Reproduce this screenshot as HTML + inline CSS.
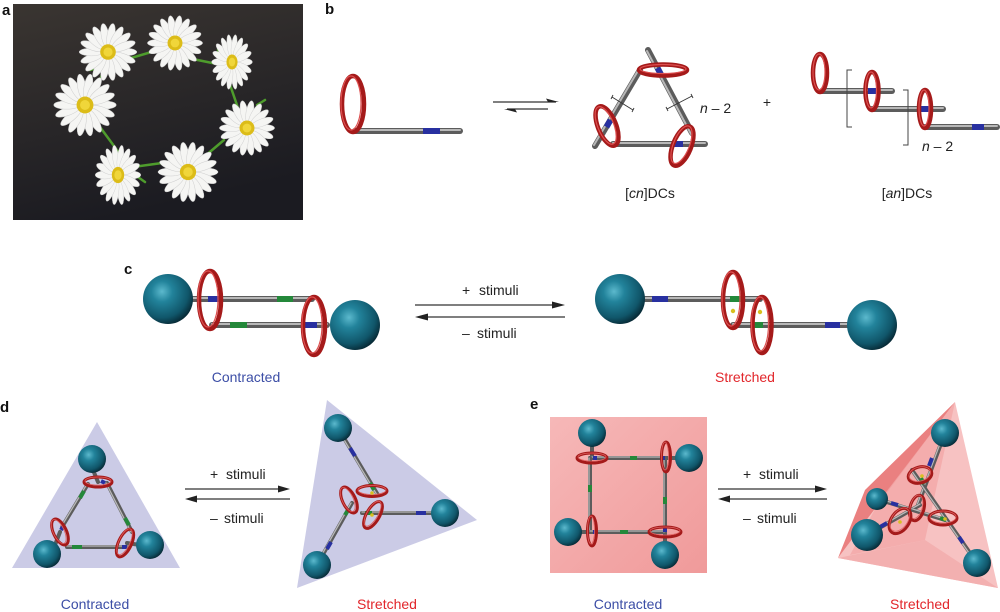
<!DOCTYPE html>
<html><head><meta charset="utf-8"><style>
html,body{margin:0;padding:0;background:#fff;}
svg{display:block;}
text{font-family:"Liberation Sans",Arial,sans-serif;}
.lab{font-weight:bold;font-size:15px;fill:#111;}
.st{font-size:14px;fill:#222;}
.cb{font-size:14px;fill:#3c4ea6;}
.cr{font-size:14px;fill:#e2262b;}
.r1{stroke:#5c5c5c;stroke-width:6;stroke-linecap:round;}
.r2{stroke:#b8b8b8;stroke-width:2;stroke-linecap:round;}
.s1{stroke:#5c5c5c;stroke-width:4;stroke-linecap:round;}
.s2{stroke:#b8b8b8;stroke-width:1.3;stroke-linecap:round;}
.bl{stroke:#2830a0;stroke-width:6;}
.gr{stroke:#24883a;stroke-width:6;}
.bls{stroke:#2830a0;stroke-width:4;}
.grs{stroke:#24883a;stroke-width:4;}
.rg{fill:none;stroke:#a51a1a;stroke-width:4.5;}
.rgh{fill:none;stroke:#dd5050;stroke-width:1.2;}
.rgs{fill:none;stroke:#a51a1a;stroke-width:3;}
.rgsh{fill:none;stroke:#e06060;stroke-width:0.8;}
.ar{stroke:#333;stroke-width:1.3;}
.stem{stroke:#4e9c2c;stroke-width:2.5;stroke-linecap:round;}
</style></head><body>
<svg width="1000" height="612" viewBox="0 0 1000 612" xmlns="http://www.w3.org/2000/svg">
<defs>
 <radialGradient id="ball" cx="0.38" cy="0.35" r="0.7">
  <stop offset="0" stop-color="#5cb9cd"/>
  <stop offset="0.3" stop-color="#22839b"/>
  <stop offset="0.75" stop-color="#10566a"/>
  <stop offset="1" stop-color="#062530"/>
 </radialGradient>
 <linearGradient id="photo" x1="0" y1="0" x2="0.3" y2="1">
  <stop offset="0" stop-color="#3a3531"/>
  <stop offset="1" stop-color="#1b1b21"/>
 </linearGradient>
 <linearGradient id="pink" x1="0" y1="0" x2="1" y2="1">
  <stop offset="0" stop-color="#f6b8b8"/>
  <stop offset="1" stop-color="#f09a9a"/>
 </linearGradient>
 <g id="fl">
  <g fill="#f5f5f3" stroke="#cfcfcf" stroke-width="0.4">
   <ellipse cx="14" cy="0" rx="10" ry="3.2" transform="rotate(0)"/>
   <ellipse cx="14" cy="0" rx="10" ry="3.2" transform="rotate(20)"/>
   <ellipse cx="14" cy="0" rx="10" ry="3.2" transform="rotate(40)"/>
   <ellipse cx="14" cy="0" rx="10" ry="3.2" transform="rotate(60)"/>
   <ellipse cx="14" cy="0" rx="10" ry="3.2" transform="rotate(80)"/>
   <ellipse cx="14" cy="0" rx="10" ry="3.2" transform="rotate(100)"/>
   <ellipse cx="14" cy="0" rx="10" ry="3.2" transform="rotate(120)"/>
   <ellipse cx="14" cy="0" rx="10" ry="3.2" transform="rotate(140)"/>
   <ellipse cx="14" cy="0" rx="10" ry="3.2" transform="rotate(160)"/>
   <ellipse cx="14" cy="0" rx="10" ry="3.2" transform="rotate(180)"/>
   <ellipse cx="14" cy="0" rx="10" ry="3.2" transform="rotate(200)"/>
   <ellipse cx="14" cy="0" rx="10" ry="3.2" transform="rotate(220)"/>
   <ellipse cx="14" cy="0" rx="10" ry="3.2" transform="rotate(240)"/>
   <ellipse cx="14" cy="0" rx="10" ry="3.2" transform="rotate(260)"/>
   <ellipse cx="14" cy="0" rx="10" ry="3.2" transform="rotate(280)"/>
   <ellipse cx="14" cy="0" rx="10" ry="3.2" transform="rotate(300)"/>
   <ellipse cx="14" cy="0" rx="10" ry="3.2" transform="rotate(320)"/>
   <ellipse cx="14" cy="0" rx="10" ry="3.2" transform="rotate(340)"/>
  </g>
  <circle r="6.5" fill="#dcbc18"/>
  <circle r="3.8" fill="#f0d63a"/>
 </g>
</defs>

<!-- ===== a ===== -->
<text class="lab" x="2" y="15">a</text>
<rect x="13" y="4" width="290" height="216" fill="url(#photo)"/>
<g>
 <line class="stem" x1="90" y1="70" x2="165" y2="48"/>
 <line class="stem" x1="183" y1="57" x2="222" y2="65"/>
 <line class="stem" x1="218" y1="50" x2="238" y2="108"/>
 <line class="stem" x1="257" y1="105" x2="265" y2="100"/>
 <line class="stem" x1="224" y1="140" x2="198" y2="162"/>
 <line class="stem" x1="133" y1="167" x2="162" y2="163"/>
 <line class="stem" x1="128" y1="165" x2="100" y2="127"/>
 <line class="stem" x1="100" y1="80" x2="107" y2="62"/>
 <line class="stem" x1="128" y1="170" x2="145" y2="182"/>
 <line class="stem" x1="198" y1="165" x2="213" y2="165"/>
</g>
<use href="#fl" transform="translate(108,52) scale(1.2)"/>
<use href="#fl" transform="translate(175,43) scale(1.15)"/>
<use href="#fl" transform="translate(232,62) scale(0.85,1.15)"/>
<use href="#fl" transform="translate(85,105) scale(1.3)"/>
<use href="#fl" transform="translate(247,128) scale(1.15)"/>
<use href="#fl" transform="translate(118,175) scale(0.95,1.25)"/>
<use href="#fl" transform="translate(188,172) scale(1.25)"/>

<!-- ===== b ===== -->
<text class="lab" x="325" y="14">b</text>
<!-- monomer -->
<line class="r1" x1="355" y1="131" x2="460" y2="131"/>
<line class="r2" x1="355" y1="130" x2="460" y2="130"/>
<line class="bl" x1="423" y1="131" x2="440" y2="131"/>
<ellipse class="rg" cx="353" cy="104" rx="11" ry="28"/>
<ellipse class="rgh" cx="351" cy="103" rx="10" ry="27"/>
<!-- equilibrium arrows -->
<line class="ar" x1="493" y1="102" x2="556" y2="102"/>
<polygon points="559,102 546,98.5 548,102" fill="#222"/>
<line class="ar" x1="507" y1="109" x2="548" y2="109"/>
<polygon points="504,109 517,112.5 515,109" fill="#222"/>
<!-- cn triangle -->
<line class="r1" x1="595" y1="146" x2="640" y2="70"/>
<line class="r2" x1="594" y1="145" x2="639" y2="69"/>
<line class="r1" x1="648" y1="50" x2="692" y2="133"/>
<line class="r2" x1="647" y1="51" x2="691" y2="134"/>
<line class="r1" x1="613" y1="144" x2="705" y2="144"/>
<line class="r2" x1="613" y1="143" x2="705" y2="143"/>
<line class="bl" x1="657.5" y1="68" x2="661.5" y2="75.5"/>
<line class="bl" x1="606.5" y1="127" x2="610.5" y2="120"/>
<line class="bl" x1="674" y1="144" x2="683" y2="144"/>
<ellipse class="rg" cx="663" cy="70" rx="24" ry="5.5"/>
<ellipse class="rgh" cx="663" cy="69" rx="23" ry="4.5"/>
<ellipse class="rg" cx="607" cy="126" rx="9" ry="21" transform="rotate(-22 607 126)"/>
<ellipse class="rgh" cx="606" cy="125" rx="8" ry="20" transform="rotate(-22 607 126)"/>
<ellipse class="rg" cx="682" cy="146" rx="9" ry="21" transform="rotate(22 682 146)"/>
<ellipse class="rgh" cx="681" cy="145" rx="8" ry="20" transform="rotate(22 682 146)"/>
<g stroke="#333" stroke-width="0.9" fill="none">
 <path d="M612,97 L633,110 M611,99 L613,95 M632,112 L634,108"/>
 <path d="M667,109 L692,96 M666,107 L668,111 M691,94 L693,98"/>
</g>
<text class="st" x="700" y="113"><tspan font-style="italic">n</tspan> – 2</text>
<text class="st" x="650" y="198" text-anchor="middle">[<tspan font-style="italic">cn</tspan>]DCs</text>
<text class="st" x="767" y="107" text-anchor="middle" font-size="15">+</text>
<!-- an chain -->
<line class="r1" x1="822" y1="91" x2="892" y2="91"/>
<line class="r2" x1="822" y1="90" x2="892" y2="90"/>
<line class="bl" x1="868" y1="91" x2="877" y2="91"/>
<line class="r1" x1="872" y1="109" x2="943" y2="109"/>
<line class="r2" x1="872" y1="108" x2="943" y2="108"/>
<line class="bl" x1="920" y1="109" x2="930" y2="109"/>
<line class="r1" x1="925" y1="127" x2="997" y2="127"/>
<line class="r2" x1="925" y1="126" x2="997" y2="126"/>
<line class="bl" x1="972" y1="127" x2="984" y2="127"/>
<ellipse class="rg" cx="820" cy="73" rx="7" ry="19"/>
<ellipse class="rgh" cx="819" cy="72" rx="6" ry="18"/>
<ellipse class="rg" cx="872" cy="91" rx="6.5" ry="19"/>
<ellipse class="rgh" cx="871" cy="90" rx="5.5" ry="18"/>
<ellipse class="rg" cx="925" cy="109" rx="6" ry="19"/>
<ellipse class="rgh" cx="924" cy="108" rx="5" ry="18"/>
<path d="M852,70 L847,70 L847,127 L852,127" stroke="#444" stroke-width="1" fill="none"/>
<path d="M903,90 L908,90 L908,145 L903,145" stroke="#444" stroke-width="1" fill="none"/>
<text class="st" x="922" y="151"><tspan font-style="italic">n</tspan> – 2</text>
<text class="st" x="907" y="198" text-anchor="middle">[<tspan font-style="italic">an</tspan>]DCs</text>

<!-- ===== c ===== -->
<text class="lab" x="124" y="274">c</text>
<line class="r1" x1="193" y1="299" x2="312" y2="299"/>
<line class="r2" x1="193" y1="298" x2="312" y2="298"/>
<line class="bl" x1="208" y1="299" x2="220" y2="299"/>
<line class="gr" x1="277" y1="299" x2="293" y2="299"/>
<line class="r1" x1="212" y1="325" x2="327" y2="325"/>
<line class="r2" x1="212" y1="324" x2="327" y2="324"/>
<line class="gr" x1="230" y1="325" x2="247" y2="325"/>
<line class="bl" x1="305" y1="325" x2="317" y2="325"/>
<circle cx="168" cy="299" r="25" fill="url(#ball)"/>
<circle cx="355" cy="325" r="25" fill="url(#ball)"/>
<ellipse class="rg" cx="210" cy="300" rx="11" ry="29"/>
<ellipse class="rgh" cx="208" cy="299" rx="10" ry="28"/>
<ellipse class="rg" cx="314" cy="326" rx="11" ry="29"/>
<ellipse class="rgh" cx="312" cy="325" rx="10" ry="28"/>
<text class="cb" x="246" y="382" text-anchor="middle">Contracted</text>
<!-- arrows c -->
<line class="ar" x1="415" y1="305" x2="556" y2="305"/>
<polygon points="565,305 552,301.5 552,308.5" fill="#222"/>
<line class="ar" x1="424" y1="317" x2="565" y2="317"/>
<polygon points="415,317 428,313.5 428,320.5" fill="#222"/>
<text class="st" x="462" y="295">+</text>
<text class="st" x="479" y="295">stimuli</text>
<text class="st" x="462" y="338">–</text>
<text class="st" x="477" y="338">stimuli</text>
<!-- stretched c -->
<line class="r1" x1="645" y1="299" x2="760" y2="299"/>
<line class="r2" x1="645" y1="298" x2="760" y2="298"/>
<line class="bl" x1="652" y1="299" x2="668" y2="299"/>
<line class="gr" x1="730" y1="299" x2="742" y2="299"/>
<line class="r1" x1="733" y1="325" x2="850" y2="325"/>
<line class="r2" x1="733" y1="324" x2="850" y2="324"/>
<line class="gr" x1="753" y1="325" x2="763" y2="325"/>
<line class="bl" x1="825" y1="325" x2="840" y2="325"/>
<circle cx="620" cy="299" r="25" fill="url(#ball)"/>
<circle cx="872" cy="325" r="25" fill="url(#ball)"/>
<circle cx="733" cy="311" r="2.2" fill="#d8c020"/>
<circle cx="760" cy="312" r="2.2" fill="#d8c020"/>
<ellipse class="rg" cx="733" cy="300" rx="10" ry="28"/>
<ellipse class="rgh" cx="731" cy="299" rx="9" ry="27"/>
<ellipse class="rg" cx="762" cy="325" rx="9.5" ry="28"/>
<ellipse class="rgh" cx="760" cy="324" rx="8.5" ry="27"/>
<text class="cr" x="745" y="382" text-anchor="middle">Stretched</text>

<!-- ===== d ===== -->
<text class="lab" x="0" y="412">d</text>
<polygon points="97,422 12,568 180,568" fill="#cbcbe6"/>
<line class="s1" x1="93" y1="470" x2="98" y2="482"/>
<line class="s1" x1="55" y1="545" x2="60" y2="532"/>
<line class="s1" x1="140" y1="545" x2="127" y2="543"/>
<line class="s1" x1="88" y1="484" x2="62" y2="527"/>
<line class="s2" x1="87" y1="484" x2="61" y2="527"/>
<line class="s1" x1="107" y1="483" x2="132" y2="532"/>
<line class="s2" x1="106" y1="483" x2="131" y2="532"/>
<line class="s1" x1="67" y1="547" x2="127" y2="547"/>
<line class="s2" x1="67" y1="546" x2="127" y2="546"/>
<line class="grs" x1="84" y1="491" x2="80" y2="498"/>
<line class="grs" x1="125" y1="518" x2="129" y2="525"/>
<line class="grs" x1="72" y1="547" x2="82" y2="547"/>
<line class="bls" x1="101" y1="481" x2="105" y2="483"/>
<line class="bls" x1="61" y1="530" x2="64" y2="525"/>
<line class="bls" x1="122" y1="547" x2="127" y2="547"/>
<circle cx="92" cy="459" r="14" fill="url(#ball)"/>
<circle cx="47" cy="554" r="14" fill="url(#ball)"/>
<circle cx="150" cy="545" r="14" fill="url(#ball)"/>
<ellipse class="rgs" cx="98" cy="482" rx="14" ry="5"/>
<ellipse class="rgsh" cx="98" cy="481" rx="13" ry="4"/>
<ellipse class="rgs" cx="60" cy="532" rx="6.5" ry="14" transform="rotate(-25 60 532)"/>
<ellipse class="rgsh" cx="59" cy="531" rx="5.5" ry="13" transform="rotate(-25 60 532)"/>
<ellipse class="rgs" cx="125" cy="543" rx="6.5" ry="15" transform="rotate(25 125 543)"/>
<ellipse class="rgsh" cx="124" cy="542" rx="5.5" ry="14" transform="rotate(25 125 543)"/>
<text class="cb" x="95" y="609" text-anchor="middle">Contracted</text>
<!-- arrows d -->
<line class="ar" x1="185" y1="489" x2="282" y2="489"/>
<polygon points="290,489 278,485.5 278,492.5" fill="#222"/>
<line class="ar" x1="193" y1="499" x2="290" y2="499"/>
<polygon points="185,499 197,495.5 197,502.5" fill="#222"/>
<text class="st" x="210" y="479">+</text>
<text class="st" x="226" y="479">stimuli</text>
<text class="st" x="210" y="523">–</text>
<text class="st" x="224" y="523">stimuli</text>
<!-- stretched d -->
<polygon points="327,400 477,520 297,588" fill="#cbcbe6"/>
<line class="s1" x1="338" y1="428" x2="378" y2="495"/>
<line class="s2" x1="337" y1="428" x2="377" y2="495"/>
<line class="s1" x1="362" y1="513" x2="445" y2="513"/>
<line class="s2" x1="362" y1="512" x2="445" y2="512"/>
<line class="s1" x1="352" y1="503" x2="317" y2="565"/>
<line class="s2" x1="351" y1="503" x2="316" y2="565"/>
<line class="bls" x1="350" y1="448" x2="355" y2="456"/>
<line class="bls" x1="416" y1="513" x2="426" y2="513"/>
<line class="bls" x1="331" y1="542" x2="327" y2="549"/>
<line class="grs" x1="370" y1="483" x2="374" y2="490"/>
<line class="grs" x1="365" y1="513" x2="372" y2="513"/>
<line class="grs" x1="348" y1="510" x2="345" y2="515"/>
<circle cx="338" cy="428" r="14" fill="url(#ball)"/>
<circle cx="445" cy="513" r="14" fill="url(#ball)"/>
<circle cx="317" cy="565" r="14" fill="url(#ball)"/>
<ellipse class="rgs" cx="372" cy="491" rx="15" ry="5.5"/>
<ellipse class="rgsh" cx="372" cy="490" rx="14" ry="4.5"/>
<ellipse class="rgs" cx="349" cy="500" rx="6.5" ry="14" transform="rotate(-25 349 500)"/>
<ellipse class="rgsh" cx="348" cy="499" rx="5.5" ry="13" transform="rotate(-25 349 500)"/>
<ellipse class="rgs" cx="373" cy="515" rx="6.5" ry="15" transform="rotate(30 373 515)"/>
<ellipse class="rgsh" cx="372" cy="514" rx="5.5" ry="14" transform="rotate(30 373 515)"/>
<circle cx="372" cy="493" r="1.8" fill="#d8c020"/>
<circle cx="372" cy="515" r="1.8" fill="#d8c020"/>
<text class="cr" x="387" y="609" text-anchor="middle">Stretched</text>

<!-- ===== e ===== -->
<text class="lab" x="530" y="409">e</text>
<rect x="550" y="417" width="157" height="156" fill="url(#pink)"/>
<line class="s1" x1="592" y1="440" x2="592" y2="458"/>
<line class="s1" x1="665" y1="458" x2="680" y2="458"/>
<line class="s1" x1="575" y1="532" x2="591" y2="532"/>
<line class="s1" x1="665" y1="532" x2="665" y2="548"/>
<line class="s1" x1="590" y1="458" x2="665" y2="458"/>
<line class="s2" x1="590" y1="457" x2="665" y2="457"/>
<line class="s1" x1="590" y1="458" x2="590" y2="532"/>
<line class="s2" x1="589" y1="458" x2="589" y2="532"/>
<line class="s1" x1="590" y1="532" x2="665" y2="532"/>
<line class="s2" x1="590" y1="531" x2="665" y2="531"/>
<line class="s1" x1="665" y1="458" x2="665" y2="532"/>
<line class="s2" x1="664" y1="458" x2="664" y2="532"/>
<line class="grs" x1="630" y1="458" x2="637" y2="458"/>
<line class="grs" x1="590" y1="485" x2="590" y2="492"/>
<line class="grs" x1="620" y1="532" x2="628" y2="532"/>
<line class="grs" x1="665" y1="497" x2="665" y2="504"/>
<line class="bls" x1="593" y1="458" x2="597" y2="458"/>
<line class="bls" x1="661" y1="458" x2="665" y2="458"/>
<line class="bls" x1="593" y1="532" x2="597" y2="532"/>
<line class="bls" x1="665" y1="528" x2="665" y2="532"/>
<circle cx="592" cy="433" r="14" fill="url(#ball)"/>
<circle cx="689" cy="458" r="14" fill="url(#ball)"/>
<circle cx="568" cy="532" r="14" fill="url(#ball)"/>
<circle cx="665" cy="555" r="14" fill="url(#ball)"/>
<ellipse class="rgs" cx="592" cy="458" rx="15" ry="5"/>
<ellipse class="rgsh" cx="592" cy="457" rx="14" ry="4"/>
<ellipse class="rgs" cx="666" cy="457" rx="4.5" ry="15"/>
<ellipse class="rgsh" cx="665" cy="456" rx="3.5" ry="14"/>
<ellipse class="rgs" cx="592" cy="531" rx="4.5" ry="15"/>
<ellipse class="rgsh" cx="591" cy="530" rx="3.5" ry="14"/>
<ellipse class="rgs" cx="665" cy="532" rx="16" ry="5"/>
<ellipse class="rgsh" cx="665" cy="531" rx="15" ry="4"/>
<text class="cb" x="628" y="609" text-anchor="middle">Contracted</text>
<!-- arrows e -->
<line class="ar" x1="718" y1="489" x2="819" y2="489"/>
<polygon points="827,489 815,485.5 815,492.5" fill="#222"/>
<line class="ar" x1="726" y1="499" x2="827" y2="499"/>
<polygon points="718,499 730,495.5 730,502.5" fill="#222"/>
<text class="st" x="743" y="479">+</text>
<text class="st" x="759" y="479">stimuli</text>
<text class="st" x="743" y="523">–</text>
<text class="st" x="757" y="523">stimuli</text>
<!-- stretched e: tetrahedron -->
<polygon points="955,402 998,588 838,558" fill="#f7c2c2"/>
<polygon points="955,402 865,490 838,558" fill="#ea8080"/>
<polygon points="955,402 880,500 850,555 925,540" fill="#f2a8a8" opacity="0.8"/>
<polygon points="838,558 925,540 998,588" fill="#f3b0b0"/>
<line class="s1" x1="945" y1="433" x2="918" y2="505"/>
<line class="s2" x1="944" y1="433" x2="917" y2="505"/>
<line class="s1" x1="867" y1="535" x2="920" y2="505"/>
<line class="s2" x1="867" y1="534" x2="920" y2="504"/>
<line class="s1" x1="877" y1="499" x2="945" y2="520"/>
<line class="s2" x1="877" y1="498" x2="945" y2="519"/>
<line class="s1" x1="977" y1="563" x2="912" y2="470"/>
<line class="s2" x1="976" y1="563" x2="911" y2="470"/>
<line class="bls" x1="932" y1="458" x2="929" y2="466"/>
<line class="bls" x1="880" y1="527" x2="887" y2="523"/>
<line class="bls" x1="891" y1="503" x2="898" y2="505"/>
<line class="bls" x1="963" y1="543" x2="959" y2="537"/>
<line class="grs" x1="921" y1="478" x2="924" y2="484"/>
<line class="grs" x1="940" y1="518" x2="946" y2="520"/>
<circle cx="945" cy="433" r="14" fill="url(#ball)"/>
<circle cx="877" cy="499" r="11" fill="url(#ball)"/>
<circle cx="867" cy="535" r="16" fill="url(#ball)"/>
<circle cx="977" cy="563" r="14" fill="url(#ball)"/>
<ellipse class="rgs" cx="920" cy="475" rx="12" ry="8" transform="rotate(-15 920 475)"/>
<ellipse class="rgsh" cx="920" cy="474" rx="11" ry="7" transform="rotate(-15 920 475)"/>
<ellipse class="rgs" cx="917" cy="508" rx="7" ry="13" transform="rotate(15 917 508)"/>
<ellipse class="rgsh" cx="916" cy="507" rx="6" ry="12" transform="rotate(15 917 508)"/>
<ellipse class="rgs" cx="900" cy="521" rx="9" ry="14" transform="rotate(35 900 521)"/>
<ellipse class="rgsh" cx="899" cy="520" rx="8" ry="13" transform="rotate(35 900 521)"/>
<ellipse class="rgs" cx="943" cy="518" rx="14" ry="7"/>
<ellipse class="rgsh" cx="943" cy="517" rx="13" ry="6"/>
<circle cx="922" cy="476" r="1.8" fill="#d8c020"/>
<circle cx="900" cy="522" r="1.8" fill="#d8c020"/>
<circle cx="945" cy="519" r="1.8" fill="#d8c020"/>
<text class="cr" x="920" y="609" text-anchor="middle">Stretched</text>
</svg>
</body></html>
